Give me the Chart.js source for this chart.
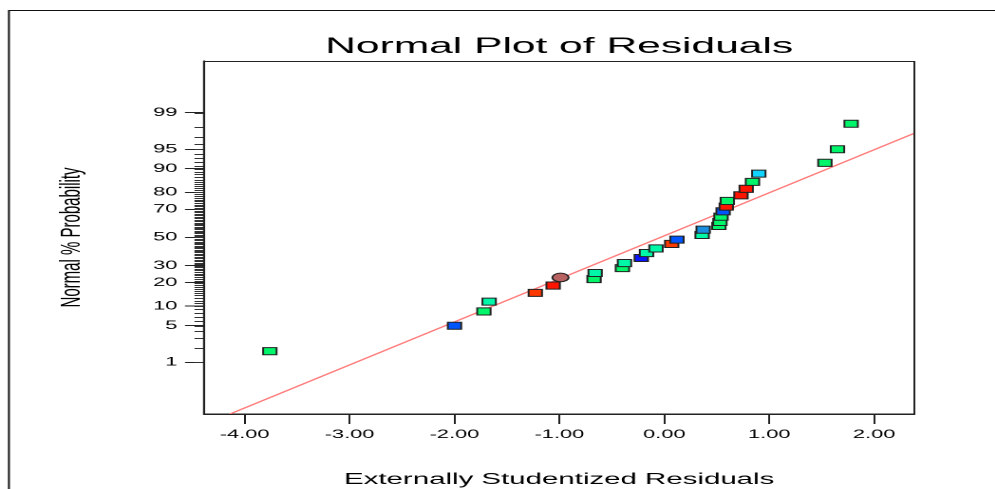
<!DOCTYPE html>
<html>
<head>
<meta charset="utf-8">
<script src="https://cdn.jsdelivr.net/npm/chart.js@4.4.1/dist/chart.umd.min.js"></script>
<style>
  html, body { margin: 0; padding: 0; background: #fff; overflow: hidden; }
  /* the reference is stretched sideways, so the chart is drawn narrow and widened */
  #wrap { position: absolute; left: 0; top: 0; width: 524px; height: 489px;
          transform: scaleX(1.899); transform-origin: 0 0; }
</style>
</head>
<body>
<div id="wrap"><canvas id="myChart"></canvas></div>
<script>
// residuals (x) and normal % probability (y)
var residuals = [-3.76, -2.00, -1.72, -1.67, -1.23, -1.06, -0.99, -0.67, -0.66, -0.40, -0.38,
                 -0.22, -0.17, -0.08, 0.07, 0.12, 0.36, 0.37, 0.52, 0.53, 0.54, 0.56,
                 0.59, 0.60, 0.73, 0.78, 0.84, 0.90, 1.53, 1.65, 1.78];
var percents = [1.7, 5.0, 8.4, 11.6, 15.1, 18.5, 22.8, 21.9, 25.4, 28.4, 31.7,
                35.1, 38.6, 41.9, 45.2, 48.4, 51.9, 55.8, 58.5, 61.4, 65.1, 68.7,
                71.8, 75.2, 78.4, 81.8, 85.0, 88.3, 91.8, 95.0, 98.3];
// red reference line, two ends
var lineResiduals = [-4.14, 2.383];
var linePercents = [0.05, 97.4];
// axes
var xTicks = [-4, -3, -2, -1, 0, 1, 2];
var xRange = [-4.388, 2.383];
var yMajor = [1, 5, 10, 20, 30, 50, 70, 80, 90, 95, 99];
var yRange = [0.05, 99.95];

// colour of each point (style only)
var colorNames = ['green', 'blue', 'green', 'teal', 'orange', 'red', 'circle', 'green', 'teal', 'green', 'teal',
                  'dblue', 'teal', 'teal', 'orange', 'blue', 'teal', 'sky', 'green', 'green', 'green', 'blue',
                  'red', 'green', 'red', 'red', 'green', 'cyan', 'green', 'green', 'green'];
var palette = {
  green: '#00f56a', teal: '#00f7a8', blue: '#0055ff', dblue: '#0a14ff', red: '#ff1400',
  orange: '#ff3a00', cyan: '#10d4ff', sky: '#1a8fe0', circle: '#b96262'
};

// inverse normal cdf (Acklam), so the y axis is a probability scale
function probit(p) {
  var a = [-3.969683028665376e+01, 2.209460984245205e+02, -2.759285104469687e+02, 1.383577518672690e+02, -3.066479806614716e+01, 2.506628277459239e+00];
  var b = [-5.447609879822406e+01, 1.615858368580409e+02, -1.556989798598866e+02, 6.680131188771972e+01, -1.328068155288572e+01];
  var c = [-7.784894002430293e-03, -3.223964580411365e-01, -2.400758277161838e+00, -2.549732539343734e+00, 4.374664141464968e+00, 2.938163982698783e+00];
  var d = [7.784695709041462e-03, 3.224671290700398e-01, 2.445134137142996e+00, 3.754408661907416e+00];
  var pl = 0.02425, q, r;
  if (p < pl) {
    q = Math.sqrt(-2 * Math.log(p));
    return (((((c[0]*q+c[1])*q+c[2])*q+c[3])*q+c[4])*q+c[5]) / ((((d[0]*q+d[1])*q+d[2])*q+d[3])*q+1);
  }
  if (p <= 1 - pl) {
    q = p - 0.5; r = q * q;
    return (((((a[0]*r+a[1])*r+a[2])*r+a[3])*r+a[4])*r+a[5])*q / (((((b[0]*r+b[1])*r+b[2])*r+b[3])*r+b[4])*r+1);
  }
  q = Math.sqrt(-2 * Math.log(1 - p));
  return -(((((c[0]*q+c[1])*q+c[2])*q+c[3])*q+c[4])*q+c[5]) / ((((d[0]*q+d[1])*q+d[2])*q+d[3])*q+1);
}

var font = "'Liberation Sans', Arial, sans-serif";

// frame round the page, box round the plot, small % ticks
var framePlugin = {
  id: 'frame',
  beforeDraw: function(chart) {
    var ctx = chart.ctx;
    ctx.save();
    ctx.fillStyle = '#fff';
    ctx.fillRect(0, 0, chart.width, chart.height);
    ctx.strokeStyle = '#111';
    ctx.lineWidth = 1;
    ctx.strokeRect(4.7, 10.5, chart.width + 20, chart.height + 20);
    ctx.restore();
  },
  afterDraw: function(chart) {
    var ctx = chart.ctx, area = chart.chartArea, ys = chart.scales.y;
    ctx.save();
    ctx.strokeStyle = '#333';
    ctx.lineWidth = 1;
    for (var p = 1; p <= 99; p++) {
      var py = Math.round(ys.getPixelForValue(probit(p / 100))) + 0.5;
      ctx.beginPath();
      ctx.moveTo(area.left - 5, py);
      ctx.lineTo(area.left, py);
      ctx.stroke();
    }
    ctx.strokeStyle = '#222';
    ctx.strokeRect(area.left, Math.round(area.top) + 0.5, area.right - area.left, area.bottom - Math.round(area.top));
    ctx.restore();
  }
};

var points = residuals.map(function(x, i) { return { x: x, y: probit(percents[i] / 100) }; });
var linePts = lineResiduals.map(function(x, i) { return { x: x, y: probit(linePercents[i] / 100) }; });

var ctx = document.getElementById('myChart').getContext('2d');
var myChart = new Chart(ctx, {
  type: 'scatter',
  data: {
    datasets: [{
      label: 'Residuals',
      data: points,
      pointStyle: colorNames.map(function(n) { return n === 'circle' ? 'circle' : 'rect'; }),
      pointRadius: colorNames.map(function(n) { return n === 'circle' ? 4.3 : 5; }),
      pointHoverRadius: 5,
      backgroundColor: colorNames.map(function(n) { return palette[n]; }),
      borderColor: '#222',
      borderWidth: 1
    }, {
      label: 'Fit',
      type: 'line',
      data: linePts,
      borderColor: '#ff7b7b',
      borderWidth: 1.2,
      pointRadius: 0,
      fill: false
    }]
  },
  options: {
    responsive: true,
    maintainAspectRatio: false,
    animation: false,
    devicePixelRatio: 2,
    layout: { padding: { left: 29, right: 42.5, top: 0, bottom: 0 } },
    plugins: {
      legend: { display: false },
      tooltip: { enabled: false },
      title: {
        display: true,
        fullSize: false,
        text: 'Normal Plot of Residuals',
        color: '#000',
        font: { family: font, size: 22.4, weight: 'normal' },
        padding: { top: 33.5, bottom: 0.6 }
      }
    },
    scales: {
      x: {
        type: 'linear',
        min: xRange[0],
        max: xRange[1],
        afterBuildTicks: function(scale) {
          scale.ticks = xTicks.map(function(v) { return { value: v }; });
        },
        afterFit: function(scale) { scale.height = 75; },
        ticks: {
          color: '#000',
          padding: 4,
          maxRotation: 0,
          font: { family: font, size: 11.5 },
          callback: function(v) { return Number(v).toFixed(2); }
        },
        grid: { drawOnChartArea: false, drawTicks: true, tickLength: 10, tickColor: '#222' },
        border: { display: true, color: '#222' },
        title: {
          display: true,
          text: 'Externally Studentized Residuals',
          color: '#000',
          padding: 0,
          font: { family: font, size: 15.5 }
        }
      },
      y: {
        type: 'linear',
        min: probit(yRange[0] / 100),
        max: probit(yRange[1] / 100),
        afterBuildTicks: function(scale) {
          scale.ticks = yMajor.map(function(p) { return { value: probit(p / 100) }; });
        },
        afterFit: function(scale) { scale.width = 78.4; },
        ticks: {
          color: '#000',
          padding: 4,
          font: { family: font, size: 11.5 },
          callback: function(v, i) { return String(yMajor[i]); }
        },
        grid: { drawOnChartArea: false, drawTicks: true, tickLength: 10, tickColor: '#222' },
        border: { display: true, color: '#222' },
        title: {
          display: true,
          text: 'Normal % Probability',
          color: '#000',
          padding: 0,
          font: { family: font, size: 15 }
        }
      }
    }
  },
  plugins: [framePlugin]
});
</script>
</body>
</html>
